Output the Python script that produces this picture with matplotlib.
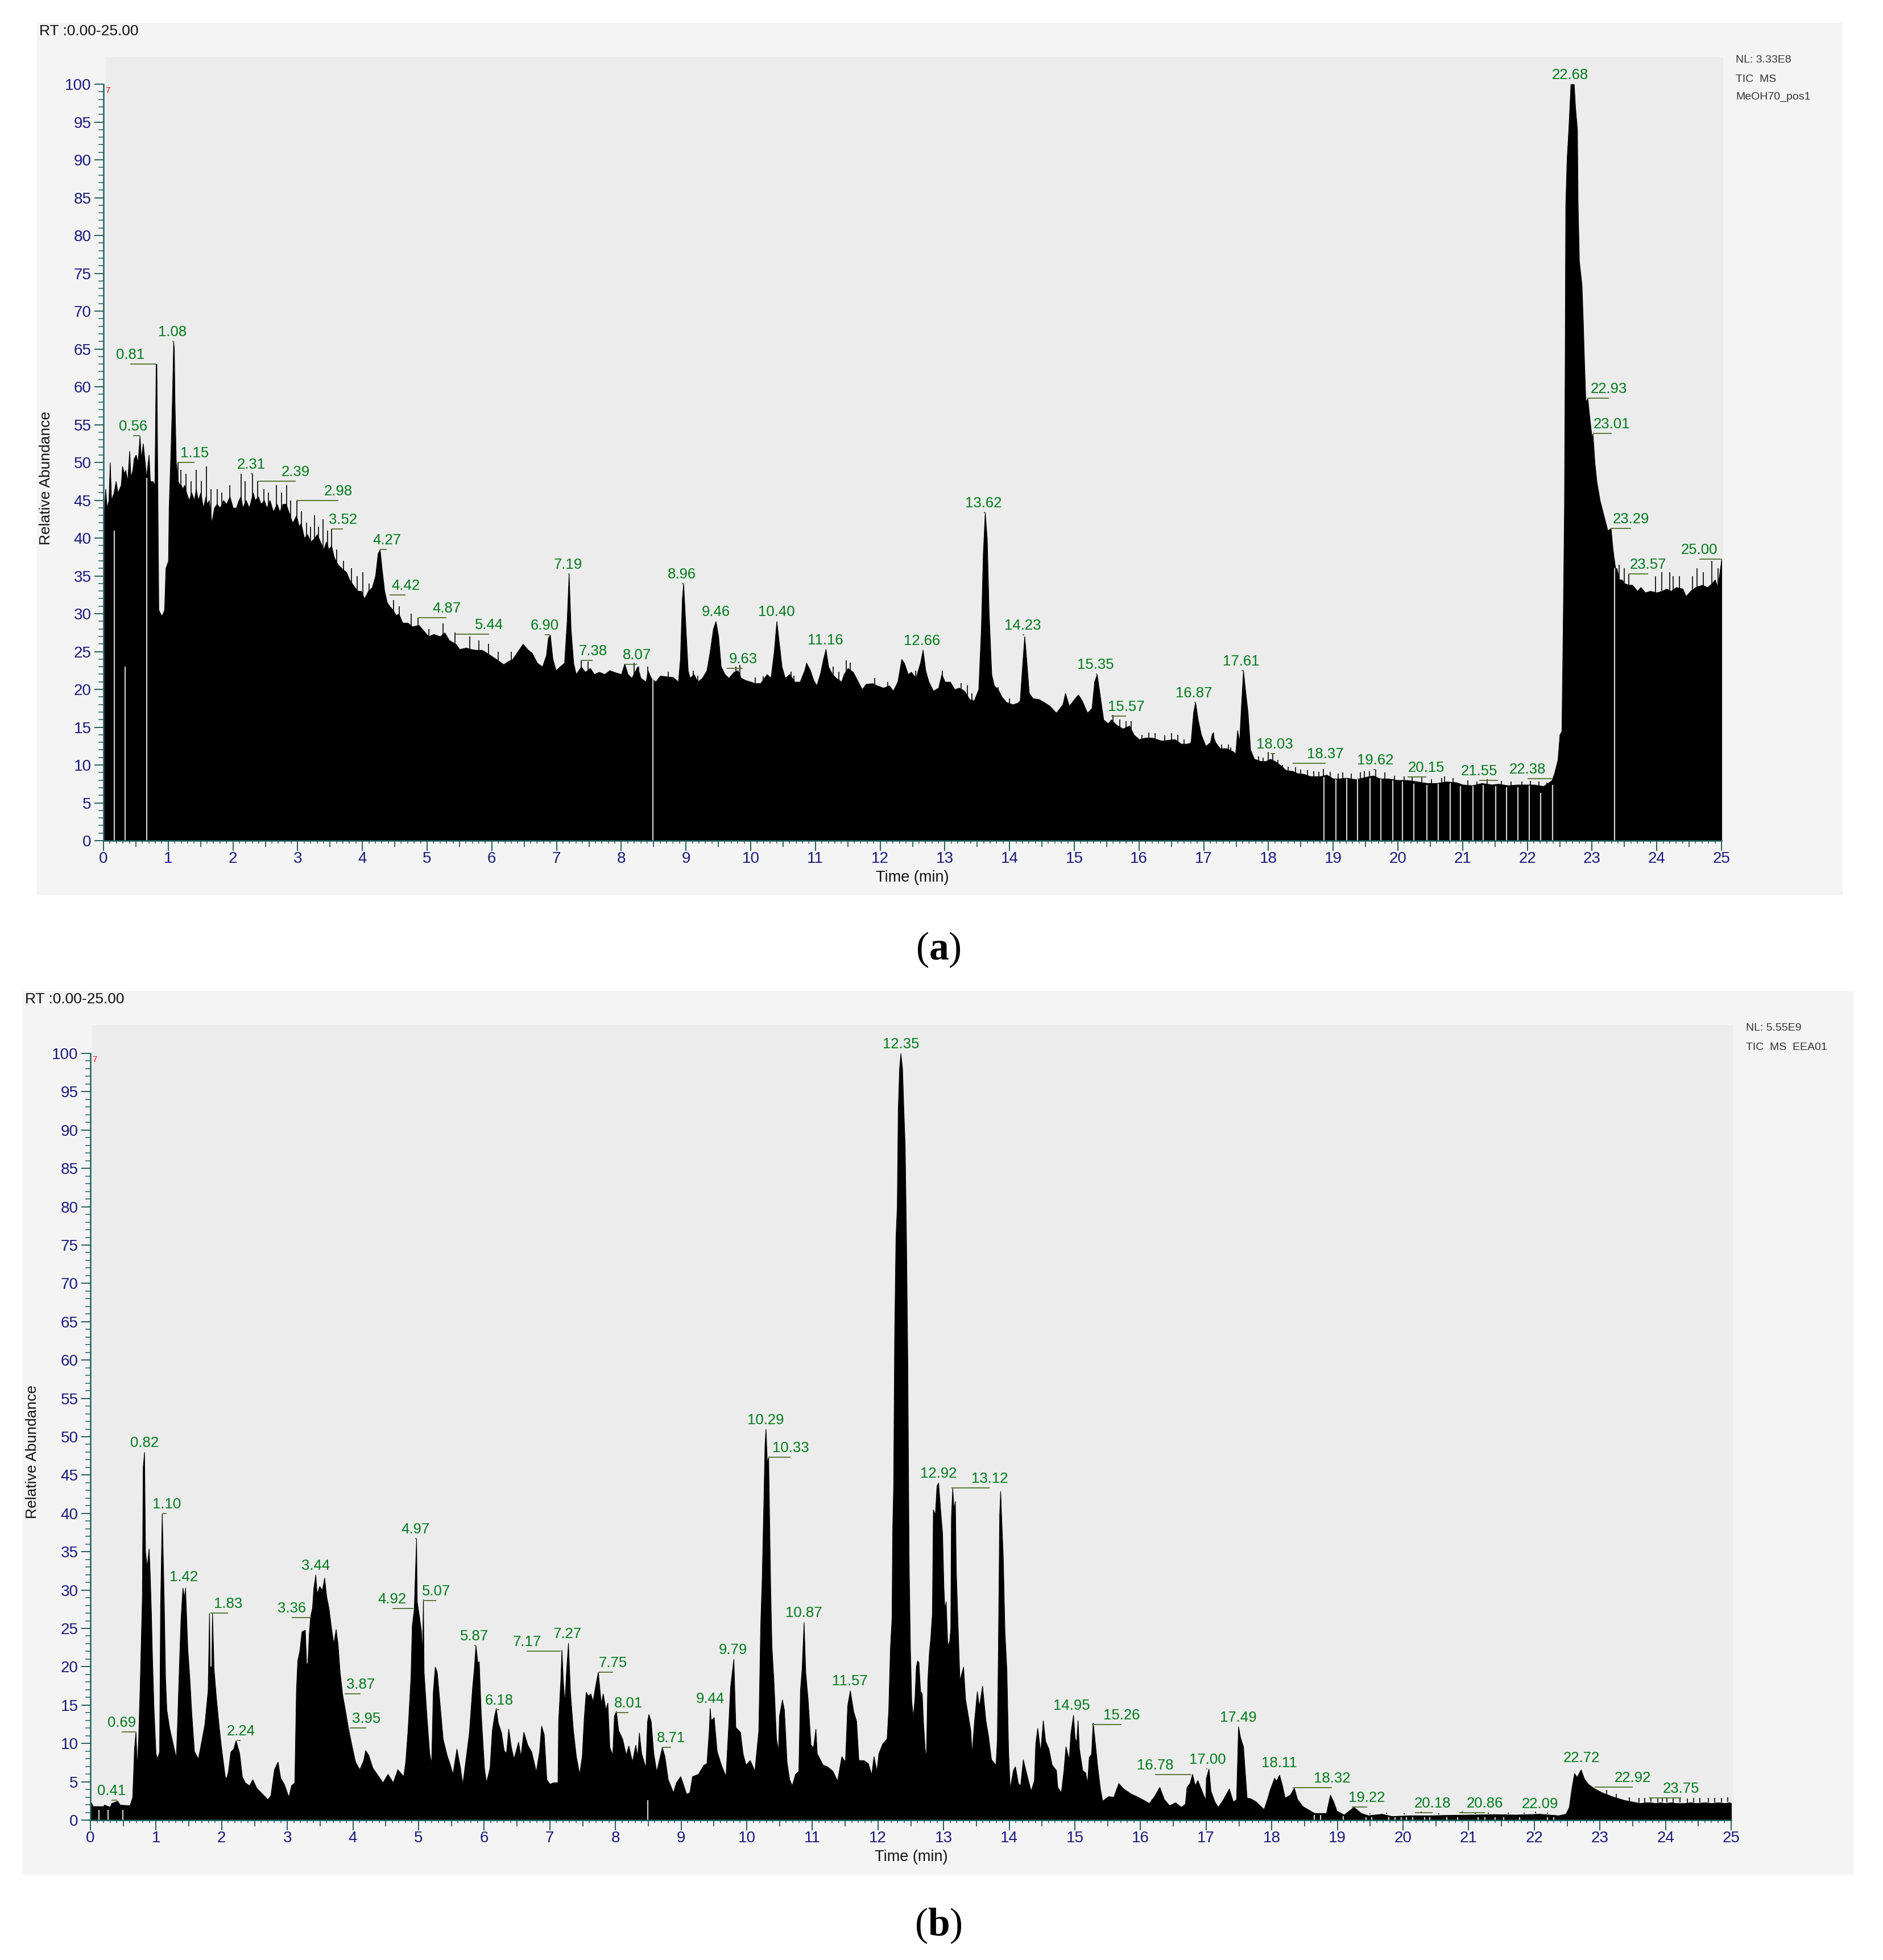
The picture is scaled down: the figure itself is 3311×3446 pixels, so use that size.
import numpy as np
import matplotlib
matplotlib.use('Agg')
import matplotlib.pyplot as plt
from matplotlib.patches import Rectangle

plt.rcParams['font.family'] = ['Liberation Sans', 'DejaVu Sans']
plt.rcParams['mathtext.fontset'] = 'custom'
plt.rcParams['mathtext.rm'] = 'Liberation Serif'
plt.rcParams['mathtext.bf'] = 'Liberation Serif:bold'

# (min, relative abundance), panel a
a_start = [(0,0),(0.01,43.5),(0.03,46.5),(0.05,44),(0.08,45),(0.10,50),(0.12,45),(0.16,46),(0.19,47.5),(0.22,46),
           (0.27,47),(0.29,49.5),(0.32,48.5),(0.34,49),(0.37,47.5),(0.40,51.5),(0.42,48),(0.45,49),(0.47,50.5),(0.50,51),
           (0.53,50),(0.56,53.5),(0.58,50.5),(0.61,52.5),(0.64,50),(0.66,48),(0.70,51),(0.72,47.5),(0.76,47.5),(0.79,47),
           (0.80,55),(0.81,63),(0.82,63),(0.83,52),(0.85,30.5),(0.88,30),(0.90,29.7),(0.94,30.5),(0.96,36),(1.00,37),
           (1.01,44),(1.04,52),(1.06,58),(1.08,66),(1.09,65),(1.10,58),(1.12,50),(1.15,47.5),(1.18,47),(1.20,47),
           (1.22,46.5),(1.25,47),(1.28,46),(1.32,45),(1.36,46),(1.40,45),(1.43,46.5),(1.46,45),(1.50,46),(1.54,44),
           (1.58,45.5),(1.60,44.5),(1.63,45),(1.67,42),(1.71,44),(1.75,44.5),(1.80,44),(1.85,45),(1.90,44.5),(1.95,45.5)]
a_slope = [(2.00,44),(2.05,44),(2.09,45),(2.12,45.5),(2.15,44),(2.20,45),(2.25,44),(2.31,46),(2.34,45),(2.39,45.5),
           (2.43,44.5),(2.48,45),(2.52,44),(2.57,45),(2.62,43.5),(2.68,44.5),(2.72,43.5),(2.77,44.5),(2.82,44.5),(2.86,43.5),
           (2.92,42),(2.98,43),(3.02,41.5),(3.05,42),(3.10,40),(3.15,40.5),(3.20,39.5),(3.26,40),(3.30,40.5),(3.35,39.5),
           (3.40,38.5),(3.44,39.5),(3.48,38.5),(3.52,39),(3.56,37.5),(3.62,36.5),(3.68,36),(3.75,35.5),(3.80,34.5),(3.88,33.5),
           (3.93,33),(3.98,33),(4.03,32),(4.09,33),(4.15,33.5),(4.20,35),(4.24,38),(4.27,38.5),(4.30,36),(4.34,33),
           (4.38,31.5),(4.42,31),(4.47,30.5),(4.52,29.8),(4.56,30),(4.62,28.8),(4.70,28.8),(4.77,28.3),(4.87,28.5),(4.95,27.7),
           (5.02,27),(5.10,27.3),(5.20,27),(5.27,27.5),(5.34,26.5),(5.44,26),(5.50,25.3),(5.60,25.5),(5.68,25.3),(5.76,25.2),
           (5.85,25.2),(5.96,24.6),(6.03,24.2),(6.10,23.8),(6.18,23.3),(6.25,23.7),(6.32,24),(6.40,25),(6.48,26),(6.55,25.3),
           (6.62,24.8),(6.70,23.5),(6.78,23),(6.84,24.5),(6.87,26.8),(6.90,27.2),(6.94,24),(6.99,22.5),(7.05,23),(7.12,23.5),
           (7.16,29),(7.19,35.3),(7.22,28),(7.26,23.5),(7.30,22),(7.38,23),(7.44,22.3),(7.52,22.8),(7.58,22),(7.66,22.3),
           (7.74,22),(7.82,22.5),(7.92,22.2)]
a_mid = [(8.00,22),(8.05,23.4),(8.10,22),(8.16,21.5),(8.25,23),(8.30,21.5),(8.38,21),(8.41,22.5),(8.46,21.5),(8.53,21),
         (8.60,21.8),(8.70,21.7),(8.80,21.6),(8.88,21),(8.91,24),(8.94,32),(8.96,34),(8.99,29),(9.03,22.5),(9.06,21.5),
         (9.12,22),(9.18,21),(9.25,21.5),(9.32,22.5),(9.37,25),(9.42,28),(9.46,29),(9.50,27),(9.54,23),(9.60,22),
         (9.66,21.5),(9.74,22.3),(9.80,22.5),(9.85,21.5),(9.92,21.2),(10.00,21),(10.06,20.8),(10.15,20.8),(10.25,22),(10.31,21.5),
         (10.36,25),(10.40,29),(10.44,26),(10.48,23),(10.53,21.5),(10.60,22),(10.68,21),(10.76,21),(10.83,22.5),(10.86,23.5),
         (10.92,22.5),(10.97,21.2),(11.02,20.5),(11.08,22.3),(11.12,24),(11.16,25.3),(11.20,23),(11.26,22),(11.32,21.5),(11.40,21),
         (11.44,22),(11.50,22.8),(11.58,22.3),(11.66,21),(11.72,20),(11.78,20.7),(11.88,20.8),(11.95,20.5),(12.05,20.2),(12.14,20.5),
         (12.20,19.8),(12.27,21),(12.33,24),(12.37,23.5),(12.43,22),(12.48,22.3),(12.55,21.5),(12.62,23.5),(12.66,25.2),(12.70,22.5),
         (12.75,21),(12.82,19.8),(12.90,20.2),(12.95,22),(13.00,21),(13.08,21),(13.15,20),(13.22,20.2),(13.30,19.8),(13.38,18.7),
         (13.45,18.5),(13.52,20),(13.56,28),(13.59,38),(13.62,43.4),(13.65,40),(13.68,30),(13.72,22),(13.76,20.5),(13.82,20),
         (13.88,19),(13.95,18.3),(14.05,18),(14.12,18.2)]
a_late = [(14.16,18.5),(14.19,22.3),(14.23,27),(14.26,24),(14.30,19.5),(14.36,18.8),(14.45,18.7),(14.55,18.2),(14.62,17.8),(14.72,16.9),
          (14.82,18),(14.86,19.5),(14.92,17.8),(15.00,18.7),(15.06,19.3),(15.12,18.5),(15.20,16.9),(15.27,17.5),(15.31,21),(15.35,22),
          (15.40,19),(15.45,16),(15.52,15.5),(15.57,16),(15.65,15.3),(15.75,14.8),(15.85,15.2),(15.92,14),(16.00,13.4),(16.10,13.6),
          (16.20,13.6),(16.35,13.2),(16.45,13.3),(16.55,13.4),(16.65,12.8),(16.75,12.8),(16.80,13),(16.84,17),(16.87,18.3),(16.91,16),
          (16.96,14),(17.03,12.5),(17.10,13),(17.13,14.2),(17.18,13),(17.25,12.2),(17.35,12.2),(17.45,11.8),(17.49,11.5),(17.52,14.6),
          (17.55,13),(17.58,18),(17.61,22.5),(17.64,20),(17.68,17),(17.72,12),(17.78,10.8),(17.88,10.5),(17.96,10.5),(18.03,10.8),
          (18.10,10.5),(18.18,10),(18.27,9.3),(18.37,9.2),(18.45,8.9),(18.55,8.8),(18.65,8.5),(18.80,8.5),(18.90,8.7),(19.00,8.2),
          (19.10,8.2),(19.20,8.3),(19.35,8.1),(19.50,8.4),(19.62,8.6),(19.72,8.2),(19.85,8.2),(20.00,8),(20.15,8),(20.30,7.8),
          (20.45,7.6),(20.60,7.6),(20.75,7.8),(20.90,7.7),(21.00,7.4),(21.15,7.3),(21.30,7.6),(21.45,7.4),(21.55,7.5),(21.70,7.3),
          (21.85,7.4),(22.00,7.4),(22.10,7.4),(22.25,7.2),(22.38,8)]
a_end = [(22.42,9),(22.47,10.7),(22.50,14),(22.53,14.5),(22.55,28),(22.57,44),(22.58,62),(22.59,84),(22.61,90),(22.63,93),
         (22.64,94.6),(22.67,100),(22.72,100),(22.74,97),(22.77,94),(22.78,84.3),(22.80,76.6),(22.84,73.5),(22.86,68.7),(22.88,63),
         (22.90,58),(22.93,58.5),(22.96,56),(23.00,53),(23.01,53.8),(23.04,50),(23.07,47.5),(23.12,45),(23.18,43),(23.24,41),
         (23.29,41.3),(23.32,38.5),(23.36,36),(23.38,36),(23.42,34.5),(23.46,34.5),(23.50,34),(23.57,33.8),(23.62,33.8),(23.70,33),
         (23.75,33.5),(23.82,32.8),(23.90,33),(24.00,32.8),(24.08,33),(24.15,33.3),(24.22,33),(24.30,33.5),(24.40,33.3),(24.45,32.3),
         (24.52,33),(24.60,33.5),(24.70,33.8),(24.78,33.5),(24.85,34),(24.90,34.5),(24.94,33.5),(25.00,37.2),(25.001,0)]

# thin spikes that stand above the trace
spike_a_early = [(1.15,50),(1.195,49),(1.275,48.5),(1.355,47.5),(1.43,49),(1.51,47.5),(1.59,49.5),(1.66,46.5),(1.755,46.5),(1.83,46),
                 (1.95,47),(2.125,48.5),(2.19,47.5),(2.30,48.5),(2.38,47.5),(2.475,46.5),(2.55,46),(2.67,47),(2.75,46),(2.83,47),
                 (2.89,45),(2.985,45),(3.06,43.5),(3.14,42),(3.2,41.5),(3.26,43),(3.32,41.5),(3.39,42.5),(3.46,41),(3.52,41.2),
                 (3.6,38.5),(3.71,37),(3.83,36),(3.92,35),(4.01,35.5),(4.1,34),(4.48,31.8),(4.57,31),(4.75,30),(4.86,29.5),
                 (5.03,28),(5.25,28.7),(5.43,27.5),(5.66,27),(5.8,26.5),(5.95,26),(6.1,25),(6.3,25),(7.38,23.8),(7.49,23.7)]
spike_a_mid = [(8.2,23.5),(8.27,23),(8.41,23),(8.73,22.3),(9.11,22.5),(9.18,21.8),(9.77,23),(9.83,23.2),(10.07,21.6),(10.19,21.7),
               (10.62,22.3),(10.67,21.8),(11.27,23),(11.36,22.3),(11.48,23.8),(11.54,23.5),(11.92,21.5),(12.12,21),(12.55,22.5),
               (12.96,22.5),(13.25,20.8),(13.35,20.5),(13.42,19.5),(13.82,20.3),(14.0,18.8)]
spike_a_late = [(15.6,16.6),(15.7,16),(15.8,15.8),(15.88,15.8),(16.05,14),(16.15,14.3),(16.25,14.2),(16.4,13.9),(16.5,14.2),(16.6,14),
                (16.7,13.4),(17.15,14.3),(17.28,12.7),(17.38,12.7),(17.42,12.3),(17.85,11.1),(17.92,11),(18.0,11.7),(18.07,11.5),
                (18.15,10.7),(18.22,10),(18.3,9.8),(18.42,9.7),(18.5,9.4),(18.6,9.3),(18.7,9.2),(18.78,9.1),(18.85,9.5),(18.95,9.1),
                (19.08,8.9),(19.15,9),(19.28,8.9),(19.42,9),(19.48,9.2),(19.56,9.2),(19.66,9.4),(19.8,9),(19.95,8.6),(20.1,8.5),
                (20.22,8.5),(20.37,8.4),(20.52,8.1),(20.68,8.3),(20.72,8.5),(20.85,8.3),(21.08,8),(21.22,7.8),(21.38,8.1),(21.6,7.9),
                (21.75,7.8),(21.92,7.8),(22.05,7.9),(22.18,7.8),(22.3,7.7),(23.42,36.5),(23.5,36),(23.57,35.3),(23.98,35),(24.08,35.5),
                (24.2,35.5),(24.25,35),(24.35,35),(24.55,35),(24.62,36),(24.72,35.5),(24.85,37),(24.95,36)]

# same for panel b
b_start = [(0,0),(0.01,2.3),(0.04,1.8),(0.20,1.8),(0.21,2.0),(0.30,1.7),(0.32,2.2),(0.41,2.5),(0.45,2),(0.60,1.9),
           (0.64,3.0),(0.655,6.4),(0.667,9.3),(0.69,11.5),(0.71,6.8),(0.73,10.6),(0.755,17.8),(0.787,29),(0.80,46),(0.82,48),
           (0.835,35),(0.86,33),(0.89,35.4),(0.905,32.5),(0.925,27),(0.94,21.6),(0.965,14.4),(0.995,8.7),(1.017,8),(1.05,8.9),
           (1.065,28),(1.09,40),(1.10,36.4),(1.12,28.6),(1.14,18.6),(1.16,14.4),(1.205,11.9),(1.25,10.2),(1.305,8.1),(1.325,12.9),
           (1.35,19.7),(1.375,26),(1.405,30.3),(1.43,29),(1.445,30.3),(1.48,22.3),(1.51,18.6),(1.54,14),(1.58,9),(1.64,8),
           (1.675,9.5),(1.74,12.5),(1.79,17),(1.81,27),(1.82,20),(1.845,20),(1.856,27),(1.88,19.7),(1.915,16),(1.96,12),
           (2.0,9),(2.05,5.7),(2.07,5.4),(2.10,6.4),(2.135,8.9),(2.18,9.3),(2.215,10.4),(2.27,8.7),(2.31,5.7),(2.355,4.9),
           (2.42,4.5),(2.47,5.3),(2.53,4.2),(2.62,3.4),(2.70,2.7),(2.745,3.2),(2.80,6.6),(2.855,7.6),(2.895,5.5),(2.95,4.7)]
b_hump = [(3.02,3),(3.06,4.5),(3.11,4.9),(3.135,17),(3.155,20.8),(3.185,22),(3.22,24.6),(3.27,24.8),(3.29,20.3),(3.31,20.5),
          (3.33,24.2),(3.35,26.5),(3.38,27.7),(3.40,30.3),(3.43,32),(3.45,29.5),(3.49,30.5),(3.53,30),(3.565,31.6),(3.595,29.2),
          (3.63,27.7),(3.67,25),(3.705,23),(3.74,24.9),(3.77,22.9),(3.80,19.3),(3.84,16.3),(3.88,14.4),(3.925,12.1),(3.98,9.8),
          (4.035,7.6),(4.10,6.6),(4.16,7.8),(4.19,9.1),(4.235,8.5),(4.30,6.8),(4.39,5.7),(4.455,4.9),(4.53,6),(4.61,4.9),
          (4.68,6.6),(4.77,5.7),(4.80,7.6),(4.835,11.7),(4.88,18.6),(4.90,25.4),(4.93,27.5),(4.965,36.7),(4.975,28.5),(5.01,26.5),
          (5.04,24.6),(5.055,21.6),(5.07,28.8),(5.08,19.3),(5.12,14),(5.165,8.7),(5.195,7.4),(5.22,16.7),(5.25,20),(5.28,19.3),
          (5.32,15.5),(5.37,10.6),(5.43,8.5),(5.48,7.2),(5.52,6),(5.58,9.3),(5.635,6.8),(5.67,4.7),(5.72,8),(5.77,11.4),
          (5.82,17.4),(5.845,19.7),(5.87,22.8),(5.90,20.5),(5.92,20.7),(5.95,14),(6.0,6.8),(6.03,4.9),(6.085,6.8),(6.12,11.7),
          (6.15,13.4),(6.18,14.6),(6.21,12.7),(6.26,11.4),(6.30,9.1),(6.335,8.7),(6.37,11.9),(6.41,9.5),(6.45,8),(6.52,10.2),
          (6.555,8.3),(6.60,11.5),(6.66,9.8),(6.72,8.9),(6.79,6.3),(6.84,9),(6.87,12.3),(6.91,11.2),(6.95,5.3)]
b_mid = [(7.0,4.7),(7.05,4.9),(7.12,4.9),(7.13,12.9),(7.165,18.6),(7.18,22.2),(7.20,18.4),(7.225,15.2),(7.25,19.3),(7.28,23.1),
         (7.31,16.7),(7.355,11.7),(7.40,8.3),(7.45,6),(7.49,8.3),(7.52,13.3),(7.55,16.7),(7.585,16.2),(7.62,16.5),(7.655,15.5),
         (7.70,17.8),(7.735,19.3),(7.76,17),(7.78,15.2),(7.81,16.5),(7.85,14.4),(7.88,15.3),(7.91,9.5),(7.955,8.5),(7.98,13.6),
         (8.01,14.2),(8.045,11.7),(8.105,10.6),(8.16,8.5),(8.20,9.7),(8.255,7.6),(8.305,9.8),(8.335,8.3),(8.36,11.4),(8.395,8.7),
         (8.46,6.8),(8.485,12.9),(8.505,13.8),(8.54,12.9),(8.58,8.7),(8.625,6.3),(8.67,8),(8.71,9.5),(8.75,8.3),(8.80,5.3),
         (8.88,3.6),(8.925,4.9),(8.99,5.7),(9.03,4.7),(9.08,3.4),(9.13,3.6),(9.17,5.7),(9.26,6),(9.345,7.2),(9.39,7.4),
         (9.425,11.7),(9.44,14.6),(9.455,13),(9.50,13.4),(9.545,9),(9.61,7.2),(9.68,5.7),(9.72,12.1),(9.75,17.4),(9.80,21),
         (9.83,12.1),(9.90,11.5),(9.94,8.7),(9.985,7.2),(10.05,7.8),(10.12,6.4),(10.18,11.7),(10.21,25.8),(10.23,31),(10.255,40.7),
         (10.275,49),(10.29,51),(10.31,46.6),(10.33,47.3),(10.36,30.7),(10.38,22.7),(10.41,18.2),(10.45,10.6),(10.48,9),(10.495,13.6),
         (10.54,15.7),(10.57,14.4),(10.61,7.6),(10.65,5.3),(10.69,4.5),(10.74,6),(10.79,6.4),(10.815,17),(10.84,19.7),(10.87,25.8),
         (10.895,19.3),(10.93,15.9),(10.975,9.8),(11.015,9.5),(11.05,11.9),(11.07,8.7),(11.16,7.2),(11.225,7),(11.31,6.4),(11.38,5.1),
         (11.445,8.3),(11.50,7.6),(11.535,15),(11.575,16.9),(11.625,14.2),(11.67,12.9),(11.705,7.8),(11.78,7.8),(11.85,7.4),(11.90,5.9),
         (11.935,8.3),(11.98,6.4)]
b_main = [(12.01,8.7),(12.07,10),(12.135,10.6),(12.16,14.4),(12.185,22.3),(12.21,26.4),(12.22,37.8),(12.235,43.6),(12.25,63),(12.27,76),
          (12.29,80),(12.305,92.7),(12.325,98),(12.345,100),(12.37,98),(12.39,92.7),(12.41,88),(12.43,76),(12.45,60),(12.47,34),
          (12.49,22.3),(12.51,15.5),(12.535,13.4),(12.56,16),(12.58,20),(12.60,20.8),(12.62,20.6),(12.645,16.8),(12.67,16.5),(12.69,12.7),
          (12.715,9.3),(12.735,8.2),(12.755,18.2),(12.78,22),(12.80,23.7),(12.825,27),(12.84,40.5),(12.87,39.8),(12.895,43.6),(12.92,44),
          (12.95,40.5),(12.98,37.4),(13.0,30.5),(13.015,27.5),(13.035,28.5),(13.06,22.7),(13.09,23.4),(13.105,25),(13.115,39.5),(13.135,43.3),
          (13.155,40.5),(13.175,41.6),(13.19,32.3),(13.22,24.4),(13.245,18.2),(13.275,19.2),(13.30,20),(13.33,15.8),(13.365,14),(13.41,11.7),
          (13.43,8.6),(13.465,12.7),(13.51,16.8),(13.54,14.8),(13.59,17.5),(13.64,13),(13.68,11),(13.725,7.9),(13.795,7.2),(13.815,10.6),
          (13.83,21.6),(13.85,39.8),(13.865,42.9),(13.88,39.5),(13.905,34.3),(13.93,24.7),(13.96,19.6),(13.985,9.3),(14.01,4.1),(14.06,6.5),
          (14.09,7),(14.135,4.8),(14.17,4.5),(14.21,7.9),(14.27,5.8),(14.33,3.8),(14.38,5.2),(14.40,10),(14.43,12),(14.475,8.9),
          (14.515,13),(14.55,10.3),(14.60,9.3),(14.65,7.2),(14.715,6.5),(14.735,4.3),(14.79,3.6),(14.83,6.5),(14.86,9.6),(14.91,7.9),
          (14.935,11.3),(14.975,13.7),(15.0,10.6),(15.025,10.3),(15.045,13),(15.065,9.3),(15.115,6.5),(15.16,6.2),(15.19,4.8),(15.215,8.2),
          (15.25,8.6),(15.275,12.7),(15.305,10.3),(15.345,6.9),(15.385,4.1),(15.42,2.5),(15.51,3.1),(15.59,3),(15.665,4.8),(15.74,4.1)]
b_end = [(15.86,3.4),(15.94,3.1),(16.05,2.6),(16.13,2.2),(16.21,3.1),(16.29,4.3),(16.36,2.7),(16.44,1.9),(16.53,2.3),(16.62,1.7),
         (16.68,2.1),(16.705,4.3),(16.75,4.8),(16.79,6),(16.83,4.5),(16.87,5.2),(16.92,4.1),(16.99,2.6),(17.0,5.5),(17.04,6.7),
         (17.07,3.8),(17.13,2.4),(17.18,1.7),(17.26,2.7),(17.35,4.1),(17.41,2.4),(17.46,2.7),(17.49,12.2),(17.52,10.8),(17.565,9.6),
         (17.62,2.9),(17.68,2.8),(17.76,2.4),(17.88,1.4),(17.93,2.7),(17.97,3.9),(18.04,5.5),(18.07,5.1),(18.115,5.9),(18.16,4.5),
         (18.20,2.9),(18.28,3.3),(18.34,4.2),(18.39,2.7),(18.47,1.8),(18.55,1.4),(18.65,0.9),(18.83,0.9),(18.89,3.3),(18.94,2.4),
         (18.99,1.2),(19.10,0.7),(19.25,1.7),(19.36,0.9),(19.47,0.6),(19.68,0.8),(19.83,0.5),(20.10,0.6),(20.40,0.6),(20.67,0.65),
         (21.04,0.7),(21.40,0.75),(21.72,0.7),(22.08,0.8),(22.37,0.6),(22.48,0.8),(22.53,1.7),(22.57,4.2),(22.61,6.1),(22.65,5.6),
         (22.71,6.6),(22.76,5.4),(22.82,4.7),(22.92,4.1),(23.03,3.6),(23.18,3.1),(23.37,2.6),(23.55,2.3),(23.62,2.2),(23.70,2.3),
         (23.76,2.3),(23.85,2.2),(23.92,2.3),(24.00,2.2),(24.08,2.3),(24.16,2.2),(24.29,2.2),(24.38,2.3),(24.47,2.2),(24.60,2.3),
         (24.70,2.2),(24.80,2.3),(24.90,2.2),(24.97,2.3),(25.0,2.2),(25.001,0)]
spike_b = [(19.5,0.9),(19.75,1),(20.02,0.9),(20.28,1.1),(20.55,0.9),(20.9,1.1),(21.1,1),(21.3,1),(21.6,1),(21.85,1),(22.02,1.1),(22.2,1),
           (23.1,3.9),(23.25,3.4),(23.45,3),(23.6,2.9),(23.68,2.9),(23.78,3),(23.88,2.9),(23.95,3.0),(24.02,2.9),(24.12,2.8),(24.22,2.9),
           (24.33,2.8),(24.43,2.9),(24.52,2.9),(24.65,2.9),(24.75,2.9),(24.85,2.9),(24.95,3.0)]

# thin gaps in the trace: time and height of the gap
gap_a_rt = [0.165, 0.33, 0.67, 8.49, 18.86, 19.04, 19.21, 19.38, 19.57, 19.74, 19.92, 20.07, 20.25, 20.45, 20.62, 20.81,
            20.97, 21.16, 21.32, 21.51, 21.68, 21.85, 22.03, 22.21, 22.39, 23.35]
gap_a_top = [41, 23, 48, 21.5, 8.4, 8.1, 8.2, 8.1, 8.3, 8.1, 8.0, 7.8, 7.5, 7.4, 7.5, 7.6, 7.2, 7.2, 7.4, 7.2, 7.1, 7.1, 7.3, 6.3, 7.4, 36]
gap_b_rt = [0.13, 0.27, 0.49, 8.49, 18.65, 18.74, 19.09, 19.44, 19.52, 19.78, 19.88, 19.97, 20.05, 20.15, 20.33, 20.41,
            20.67, 20.83, 21.14, 21.25, 21.40, 21.53, 21.78, 22.2, 22.3]
gap_b_top = [1.3, 1.3, 1.3, 2.6, 0.7, 0.7, 0.5, 0.4, 0.4, 0.4, 0.4, 0.4, 0.4, 0.4, 0.4, 0.4, 0.4, 0.4, 0.4, 0.4, 0.4, 0.4, 0.4, 0.4, 0.4]

# peak labels: text, height of the peak
peak_a = ['0.56','0.81','1.08','1.15','2.31','2.39','2.98','3.52','4.27','4.42','4.87','5.44','6.90','7.19','7.38','8.07',
          '8.96','9.46','9.63','10.40','11.16','12.66','13.62','14.23','15.35','15.57','16.87','17.61','18.03','18.37',
          '19.62','20.15','21.55','22.38','22.68','22.93','23.01','23.29','23.57','25.00']
peak_a_h = [53.5,63,66,50,48.5,47.5,45,41.2,38.5,32.5,29.5,27.3,27.2,35.3,23.8,23.3,34,29,22.8,29,25.3,25.2,43.4,27.2,22,16.5,
            18.3,22.5,11.5,10.2,9.4,8.4,8,8.2,100,58.5,53.8,41.3,35.3,37.2]
peak_a_lx = [0.46,0.41,1.06,1.41,2.28,2.97,3.63,3.7,4.38,4.67,5.3,5.96,6.82,7.18,7.56,8.24,8.94,9.46,9.88,10.4,11.15,12.65,
             13.6,14.2,15.33,15.8,16.85,17.58,18.1,18.88,19.65,20.44,21.26,22.0,22.66,23.26,23.3,23.6,23.87,24.66]
peak_b = ['0.41','0.69','0.82','1.10','1.42','1.83','2.24','3.36','3.44','3.87','3.95','4.92','4.97','5.07','5.87','6.18',
          '7.17','7.27','7.75','8.01','8.71','9.44','9.79','10.29','10.33','10.87','11.57','12.35','12.92','13.12','14.95',
          '15.26','16.78','17.00','17.49','18.11','18.32','19.22','20.18','20.86','22.09','22.72','22.92','23.75']
peak_b_h = [2.6,11.5,48,40,30.5,27,10.4,26.4,32,16.5,12,27.6,36.7,28.6,22.8,14.4,22,23.1,19.3,14,9.5,14.6,21,51,47.3,25.8,16.9,
            100,44,43.3,13.7,12.5,5.9,6.7,12.2,6.2,4.2,1.7,1.0,1.0,0.9,6.9,4.3,2.9]
peak_b_lx = [0.32,0.48,0.82,1.16,1.42,2.1,2.29,3.07,3.43,4.12,4.2,4.6,4.95,5.27,5.85,6.23,6.65,7.27,7.96,8.2,8.85,9.44,9.79,
             10.29,10.67,10.87,11.57,12.35,12.92,13.7,14.95,15.71,16.22,17.02,17.49,18.11,18.92,19.45,20.45,21.25,22.09,
             22.72,23.5,24.24]

y_ticks = np.arange(0, 101, 5)
x_ticks = np.arange(0, 26)

W, H = 3311, 3446
GREEN = '#007a1a'
LEADER = '#4f6f2a'
NAVY = '#1a1a7a'
TEAL = '#1f5f5f'

fig = plt.figure(figsize=(W / 100, H / 100), dpi=100, facecolor='white')


def box(x0, y0, x1, y1, color):
    fig.add_artist(Rectangle((x0 / W, 1 - y1 / H), (x1 - x0) / W, (y1 - y0) / H,
                             transform=fig.transFigure, fc=color, ec='none', zorder=-5))


def panel(trace, spikes, gap_rt, gap_top, names, heights, label_x, rect):
    x0, x1, y_top, y_bot = rect
    ax = fig.add_axes([x0 / W, 1 - y_bot / H, (x1 - x0) / W, (y_bot - y_top) / H])
    ax.patch.set_alpha(0)
    rt, val = zip(*trace)
    ax.fill_between(rt, val, 0, color='black', lw=0.8)
    sp_rt, sp_val = zip(*spikes)
    # start the spikes from 1 so they only show above the filled area
    ax.vlines(sp_rt, np.array(sp_val) * 0.8, sp_val, color='black', lw=1.2)
    ax.vlines(gap_rt, 0, gap_top, color='#cfcfcf', lw=1.6)
    ax.set_xlim(0, 25)
    ax.set_ylim(0, 100)
    for s in ['top', 'right']:
        ax.spines[s].set_visible(False)
    for s in ['left', 'bottom']:
        ax.spines[s].set_color(TEAL)
        ax.spines[s].set_linewidth(1.8)
    ax.set_xticks(x_ticks)
    ax.set_yticks(y_ticks)
    ax.set_xticks(np.arange(0, 25.01, 0.1), minor=True)
    ax.set_yticks(np.arange(0, 101, 1), minor=True)
    ax.tick_params(axis='x', which='major', length=13, width=1.4, color=TEAL, labelcolor=NAVY, labelsize=20, pad=1)
    ax.tick_params(axis='y', which='major', length=11.5, width=1.4, color=TEAL, labelcolor=NAVY, labelsize=20, pad=4)
    ax.tick_params(axis='x', which='minor', length=3.5, width=1.1, color=TEAL)
    ax.tick_params(axis='y', which='minor', length=6.5, width=1.1, color=TEAL)
    ax.plot(x_ticks[:-1] + 0.5, np.zeros(25), ls='', marker=3, ms=8, mew=1.3, color=TEAL, clip_on=False)
    for name, h, lx in zip(names, heights, label_x):
        pk = float(name)
        ax.plot([pk, lx], [h, h], color=LEADER, lw=1.3, solid_capstyle='butt', zorder=4)
        ax.annotate(name, (lx, h), xytext=(0, 11.5), textcoords='offset points', ha='center', va='center',
                    color=GREEN, fontsize=18.5, zorder=5)
    ax.text(0.03, 99.2, '7', color='red', fontsize=11, ha='left', va='center')
    return ax


# panel a
box(65, 40, 3240, 1574, '#f4f4f4')
box(186, 100, 3030, 1478, '#ececec')
panel(a_start + a_slope + a_mid + a_late + a_end, spike_a_early + spike_a_mid + spike_a_late,
      gap_a_rt, gap_a_top, peak_a, peak_a_h, peak_a_lx, (182, 3027, 148, 1478))

# panel b
box(40, 1742, 3260, 3296, '#f4f4f4')
box(162, 1802, 3048, 3200, '#ececec')
panel(b_start + b_hump + b_mid + b_main + b_end, spike_b,
      gap_b_rt, gap_b_top, peak_b, peak_b_h, peak_b_lx, (159, 3044, 1852, 3200))


def txt(x, y, s, **kw):
    fig.text(x / W, 1 - y / H, s, va='center', **kw)


txt(69, 55, 'RT :0.00-25.00', fontsize=19, color='#111111')
txt(44, 1757, 'RT :0.00-25.00', fontsize=19, color='#111111')
txt(3052, 106, 'NL: 3.33E8', fontsize=14, color='#333333')
txt(3052, 139, 'TIC  MS', fontsize=14, color='#333333')
txt(3052, 170, 'MeOH70_pos1', fontsize=14, color='#333333')
txt(3070, 1808, 'NL: 5.55E9', fontsize=14, color='#333333')
txt(3070, 1841, 'TIC  MS  EEA01', fontsize=14, color='#333333')
txt(1604, 1543, 'Time (min)', fontsize=19.5, color='#111111', ha='center')
txt(1602, 3265, 'Time (min)', fontsize=19.5, color='#111111', ha='center')
txt(81, 840, 'Relative Abundance', fontsize=19, color='#111111', ha='center', rotation=90)
txt(57, 2552, 'Relative Abundance', fontsize=19, color='#111111', ha='center', rotation=90)
txt(1650, 1670, r'($\mathbf{a}$)', fontsize=50, color='black', ha='center', family='Liberation Serif')
txt(1650, 3386, r'($\mathbf{b}$)', fontsize=50, color='black', ha='center', family='Liberation Serif')

fig.savefig('out.png', dpi=100, facecolor='white')
